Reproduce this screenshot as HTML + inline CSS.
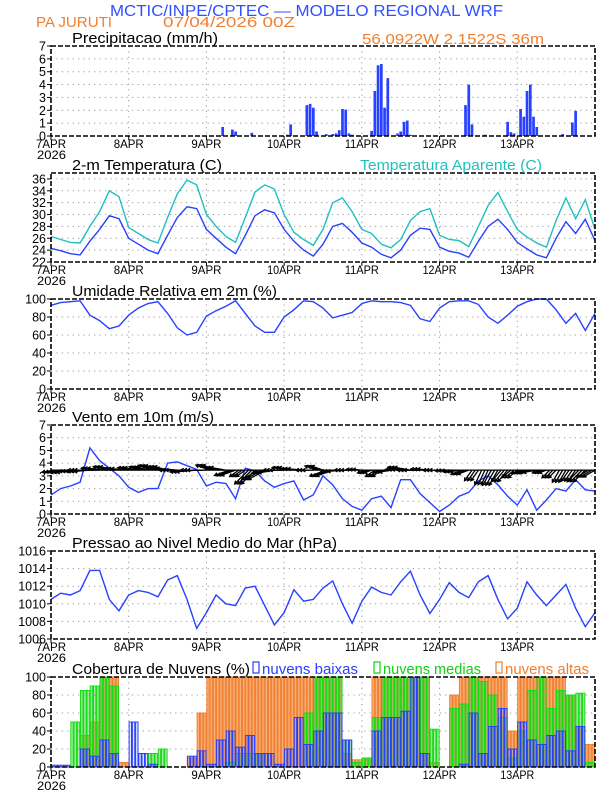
<!DOCTYPE html>
<html><head><meta charset="utf-8">
<style>
html,body{margin:0;padding:0;background:#fff;}
svg{display:block;font-family:"Liberation Sans",sans-serif;}
</style></head>
<body>
<svg id="chart" width="612" height="792" viewBox="0 0 612 792" xmlns="http://www.w3.org/2000/svg">
<text x="110" y="16" font-size="16" fill="#3050ff" textLength="393" lengthAdjust="spacingAndGlyphs">MCTIC/INPE/CPTEC — MODELO REGIONAL WRF</text>
<text x="36" y="27" font-size="15" fill="#f08030" textLength="76" lengthAdjust="spacingAndGlyphs">PA JURUTI</text>
<text x="163" y="27" font-size="15" fill="#f08030" textLength="132" lengthAdjust="spacingAndGlyphs">07/04/2026 00Z</text>
<text x="362" y="44" font-size="15" fill="#f08030" textLength="182" lengthAdjust="spacingAndGlyphs">56.0922W 2.1522S 36m</text>
<g id="layer"></g>
</svg>
<script>
// ---------- data ----------
const dayLabels = ["7APR","8APR","9APR","10APR","11APR","12APR","13APR"];
const hours3 = [0,3,6,9,12,15,18,21,24,27,30,33,36,39,42,45,48,51,54,57,60,63,66,69,72,75,78,81,84,87,90,93,96,99,102,105,108,111,114,117,120,123,126,129,132,135,138,141,144,147,150,153,156,159,162,165,168];
const precipHours = [53,56,57,62,73,74,79,80,81,82,85,87,88,89,90,91,92,93,99,100,101,102,103,104,107,108,109,110,111,128,129,130,134,141,142,143,145,146,147,148,149,150,158,161,162];
const precipValues = [0.7,0.5,0.35,0.25,0.1,0.9,2.4,2.5,2.2,0.35,0.15,0.15,0.2,0.45,2.1,2.05,0.2,0.1,0.4,3.5,5.5,5.6,2.2,4.5,0.2,0.35,1.1,1.2,0.1,2.4,4.0,0.9,0.1,1.1,0.3,0.2,2.1,1.5,3.5,4.0,1.5,0.7,0.15,1.05,1.95];
const temp2m = [24.3,23.9,23.4,23.2,25.5,27.5,29.8,29.3,26.0,25.0,24.0,23.4,26.5,29.5,31.3,31.0,27.5,26.0,24.5,23.4,26.5,29.8,30.8,30.3,27.5,25.5,24.0,23.0,25.0,28.0,28.5,27.0,25.2,24.5,23.3,22.7,24.0,26.5,27.7,27.5,24.5,23.8,23.5,22.8,25.5,28.0,29.2,27.5,25.3,24.2,23.2,22.7,26.0,28.8,26.8,29.2,25.6];
const tempApparent = [26.3,25.8,25.3,25.2,28.0,30.5,34.0,33.0,27.8,26.8,25.8,25.2,29.5,33.5,35.8,35.0,30.0,28.0,26.3,25.3,29.5,33.8,35.0,34.3,30.0,27.0,25.8,24.8,27.5,32.0,32.8,30.5,27.5,26.8,25.0,24.4,25.8,29.0,30.5,31.0,26.5,25.8,25.6,24.6,28.0,31.5,33.7,30.5,27.5,26.2,25.2,24.5,29.0,32.8,29.3,32.5,27.5];
const relHumidity = [93,96,97,98,82,76,67,70,82,90,95,97,84,68,60,63,81,87,92,98,84,70,63,63,80,88,98,97,90,79,82,85,95,98,97,97,96,93,78,75,90,97,98,98,94,80,73,82,92,97,100,100,88,73,84,65,84];
const windSpeed = [1.5,2.0,2.2,2.5,5.2,4.2,3.6,3.0,2.1,1.7,2.0,2.0,4.0,4.1,3.8,3.5,2.2,2.5,2.4,1.2,3.6,3.4,2.6,2.1,2.4,2.6,1.1,1.5,3.0,2.3,1.2,0.6,0.3,1.2,1.4,0.5,2.7,2.7,1.6,0.9,0.2,0.7,1.4,1.7,2.6,3.0,2.3,1.4,0.7,1.9,0.3,1.1,2.0,1.8,2.7,1.9,1.8];
const windDir = [190,190,185,185,180,175,170,175,170,165,160,165,175,180,185,180,160,170,200,215,225,210,190,180,170,175,180,160,200,185,180,175,200,215,190,175,170,180,175,180,185,190,200,235,245,240,230,220,200,190,200,225,240,235,225,210,190];
const pressure = [1010.5,1011.2,1011.0,1011.5,1013.8,1013.8,1010.5,1009.2,1011.0,1011.5,1011.3,1010.8,1012.7,1013.2,1010.5,1007.2,1009.0,1011.0,1010.0,1009.8,1011.8,1012.0,1009.8,1007.6,1009.0,1011.6,1010.3,1010.5,1011.8,1012.6,1010.0,1007.8,1010.3,1011.9,1011.3,1011.0,1012.5,1013.7,1011.0,1008.9,1010.5,1012.4,1011.3,1010.7,1012.5,1013.2,1010.5,1008.3,1009.5,1012.5,1011.0,1009.8,1011.0,1012.2,1009.5,1007.4,1009.0];
const cloudHigh = [0,0,0,35,50,100,100,5,0,0,0,0,0,0,10,60,100,100,100,100,100,100,100,100,100,100,100,100,100,100,15,8,10,100,100,100,100,100,100,5,0,80,100,100,100,100,100,40,100,100,100,100,100,80,45,25,20];
const cloudMid = [0,0,50,85,90,100,90,0,0,0,15,20,0,0,0,0,0,0,5,15,15,15,0,0,0,0,60,100,100,100,30,5,10,55,100,100,100,100,100,42,0,65,70,100,95,80,55,10,40,85,100,65,85,80,82,5,5];
const cloudLow = [2,2,0,20,12,30,15,0,50,15,3,0,0,0,12,18,3,30,40,22,35,15,15,3,20,55,25,40,60,60,30,0,0,40,55,55,62,100,15,0,0,0,3,60,15,45,65,20,50,30,25,35,40,18,45,0,0];
const precipTicks = [0,1,2,3,4,5,6,7];
const tempTicks = [22,24,26,28,30,32,34,36];
const rhTicks = [0,20,40,60,80,100];
const windTicks = [0,1,2,3,4,5,6,7];
const presTicks = [1006,1008,1010,1012,1014,1016];
const cloudTicks = [0,20,40,60,80,100];

// ---------- helpers ----------
const NS = "http://www.w3.org/2000/svg";
const layer = document.getElementById('layer');
const X0 = 51, X1 = 595, HMAX = 168;
function xh(h){ return X0 + h*(X1-X0)/HMAX; }
function mk(tag, attrs, parent){
  const e = document.createElementNS(NS, tag);
  for (const k in attrs) e.setAttribute(k, attrs[k]);
  (parent||layer).appendChild(e);
  return e;
}
function makeScale(top,bottom,lo,hi){ return v => bottom - (v-lo)/(hi-lo)*(bottom-top); }

function panel(name, top, bottom, lo, hi, ticks, title){
  const g = mk('g', {});
  
  
  const y = makeScale(top,bottom,lo,hi);
  ticks.forEach(t => {
    const yy = y(t);
    if (t !== lo && t !== hi) {
      const gl = mk('line', {x1:X0,x2:X1,y1:yy,y2:yy,stroke:'#999','stroke-width':1,'stroke-dasharray':'1.2,4.2'}, g);
      
      
    }
    const tk = mk('line', {x1:X0-4,x2:X0,y1:yy,y2:yy,stroke:'#000','stroke-width':1}, g);
    
    
    const lb = mk('text', {x:X0-5,y:yy+4.5,'font-size':12.5,'text-anchor':'end',fill:'#000'}, g);
    
    
    lb.textContent = t;
  });
  dayLabels.forEach((d,i) => {
    const xx = xh(i*24);
    if (i>0){
      const gl = mk('line', {x1:xx,x2:xx,y1:top,y2:bottom,stroke:'#999','stroke-width':1,'stroke-dasharray':'1.2,4.2'}, g);
      
      
    }
    const tk = mk('line', {x1:xx,x2:xx,y1:bottom,y2:bottom+4,stroke:'#000'}, g);
    
    
    const lb = mk('text', {x:xx,y:bottom+12,'font-size':12,'text-anchor':'middle',fill:'#000',textLength:d.length>4?34:30,lengthAdjust:'spacingAndGlyphs'}, g);
    
    
    lb.textContent = d;
  });
  const yr = mk('text', {x:X0-14,y:bottom+23,'font-size':12,fill:'#000',textLength:29,lengthAdjust:'spacingAndGlyphs'}, g);
  
  
  yr.textContent = '2026';
  const tt = mk('text', {x:72,y:top-3,'font-size':15,fill:'#000',textLength:title[1],lengthAdjust:'spacingAndGlyphs'}, g);
  
  
  tt.textContent = title[0];
  const content = mk('g', {}, g);
  
  
  const frame = mk('rect', {x:X0,y:top,width:X1-X0,height:bottom-top,fill:'none',stroke:'#000','stroke-width':1.6,'stroke-dasharray':'5,2'}, g);
  
  
  return {y, content};
}
function linePath(vals, y){
  return vals.map((v,i)=>(i?'L':'M')+xh(hours3[i]).toFixed(1)+','+y(v).toFixed(1)).join(' ');
}

// ---------- precipitation ----------
let P = panel('precipitation', 46, 136, 0, 7, precipTicks, ['Precipitacao (mm/h)',146]);
precipHours.forEach((h,i) => {
  const v = precipValues[i];
  const b = mk('rect', {x:xh(h)-1.3, y:P.y(v), width:2.7, height:P.y(0)-P.y(v), fill:'#2840ff'}, P.content);
  
  
});

// ---------- temperature ----------
let T = panel('temperature', 173, 262, 22, 37, tempTicks, ['2-m Temperatura (C)',150]);
let tl = mk('path', {d:linePath(tempApparent,T.y), fill:'none', stroke:'#20c0c0','stroke-width':1.4}, T.content);


tl = mk('path', {d:linePath(temp2m,T.y), fill:'none', stroke:'#2840ff','stroke-width':1.4}, T.content);


const ta = mk('text', {x:360,y:170,'font-size':15,fill:'#20c0c0',textLength:182,lengthAdjust:'spacingAndGlyphs'});


ta.textContent = 'Temperatura Aparente (C)';

// ---------- humidity ----------
let R = panel('humidity', 299, 389, 0, 100, rhTicks, ['Umidade Relativa em 2m (%)',205]);
const rl = mk('path', {d:linePath(relHumidity,R.y), fill:'none', stroke:'#2840ff','stroke-width':1.4}, R.content);



// ---------- wind ----------
let W = panel('wind', 425, 514, 0, 7, windTicks, ['Vento em 10m (m/s)',142]);
const wl = mk('path', {d:linePath(windSpeed,W.y), fill:'none', stroke:'#2840ff','stroke-width':1.4}, W.content);


const baseY = W.y(3.45);
windDir.forEach((d,i) => {
  if (hours3[i] >= 168) return;
  const L = 7 + windSpeed[i]*3.5;
  const a = d*Math.PI/180;
  for (let k=0;k<3;k++){
    const x0 = xh(hours3[i]+k+1), x2 = x0 + L*Math.cos(a), y2 = baseY - L*Math.sin(a);
    const hx1 = x2 + 3.5*Math.cos(a+2.6), hy1 = y2 - 3.5*Math.sin(a+2.6);
    const hx2 = x2 + 3.5*Math.cos(a-2.6), hy2 = y2 - 3.5*Math.sin(a-2.6);
    const ar = mk('path', {d:`M${x0},${baseY} L${x2},${y2} M${hx1},${hy1} L${x2},${y2} L${hx2},${hy2}`, stroke:'#000', 'stroke-width':1.3, fill:'none'}, W.content);
    
    
  }
});
const wb = mk('line', {x1:X0,x2:X1,y1:baseY,y2:baseY,stroke:'#000','stroke-width':1.2}, W.content);



// ---------- pressure ----------
let PR = panel('pressure', 551, 639, 1006, 1016, presTicks, ['Pressao ao Nivel Medio do Mar (hPa)',265]);
const pl = mk('path', {d:linePath(pressure,PR.y), fill:'none', stroke:'#2840ff','stroke-width':1.4}, PR.content);



// ---------- clouds ----------
let C = panel('clouds', 677, 767, 0, 100, cloudTicks, ['Cobertura de Nuvens (%)',178]);
function cloudBars(vals, fill, stroke, nm, op){
  vals.forEach((v,i) => {
    if (v <= 0 || hours3[i] >= 168) return;
    for (let k=0;k<3;k++){
      const b = mk('rect', {x:xh(hours3[i]+k)+0.4, y:C.y(v), width:2.4, height:C.y(0)-C.y(v), fill:fill, 'fill-opacity':op, stroke:stroke, 'stroke-width':1}, C.content);
      
      
    }
  });
}
cloudBars(cloudHigh, '#f7a060', '#f08030', 'high-cloud-bar', 0.85);
cloudBars(cloudMid, '#40c040', '#10e010', 'mid-cloud-bar', 0.4);
cloudBars(cloudLow, '#4060e0', '#2840ff', 'low-cloud-bar', 0.15);

const legend = [['nuvens baixas','#2840ff',262,96],['nuvens medias','#10d010',383,98],['nuvens altas','#f08030',505,84]];
legend.forEach(l => {
  const r = mk('rect', {x:l[2]-9,y:662,width:6,height:11,fill:'none',stroke:l[1],'stroke-width':1.2});
  
  
  const t = mk('text', {x:l[2],y:674,'font-size':15,fill:l[1],textLength:l[3],lengthAdjust:'spacingAndGlyphs'});
  
  
  t.textContent = l[0];
});
</script>
</body></html>
